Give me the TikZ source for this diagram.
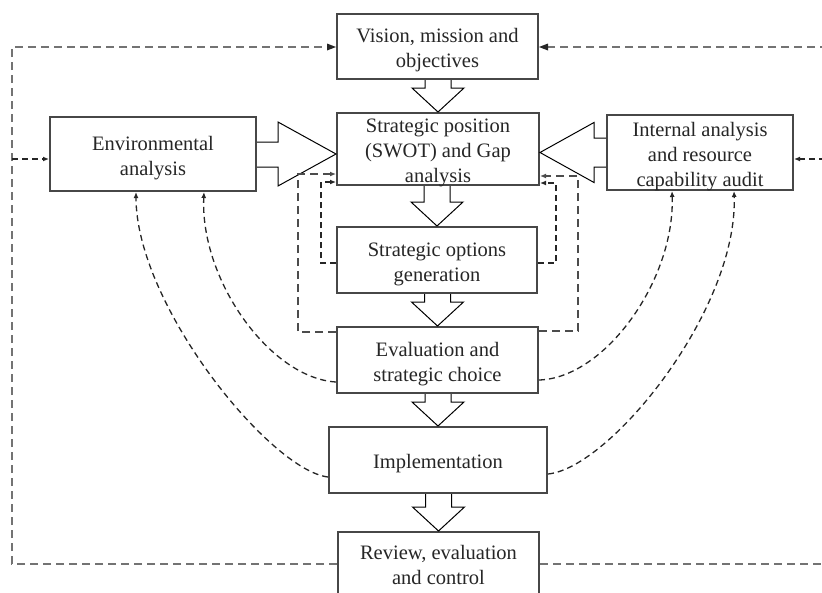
\documentclass[tikz,border=0pt]{standalone}
\usepackage{fontspec}
\setmainfont{Liberation Serif}
\usetikzlibrary{calc,arrows.meta}
\tikzset{
  box/.style={draw=black!72, line width=2pt, fill=white, rectangle, inner sep=0pt},
  txt/.style={align=center, font=\fontsize{20.5}{25}\selectfont, text=black!85, inner sep=0pt, yshift=-4pt},
  bigarrow/.style={draw=black, line width=1pt, line join=miter},
  outerloop/.style={draw=black!55, line width=2.6pt, dash pattern=on 8pt off 5pt},
  midloop/.style={draw=black!70, line width=1.6pt, dash pattern=on 8pt off 5pt, -{Latex[length=6pt,width=5pt]}},
  innerloop/.style={draw=black!85, line width=1.3pt, dash pattern=on 6pt off 4pt, -{Latex[length=6pt,width=5pt]}},
  curveloop/.style={draw=black!85, line width=1.3pt, dash pattern=on 6pt off 4pt, -{Latex[length=6pt,width=5pt]}},
}
\newcommand{\bigdown}[2]{%
  \draw[bigarrow] ($(#1.south -| #2.north)+(-13,0)$) -- ($(#2.north)+(-13,-24)$)
    -- ($(#2.north)+(-26,-24)$) -- (#2.north) -- ($(#2.north)+(26,-24)$)
    -- ($(#2.north)+(13,-24)$) -- ($(#1.south -| #2.north)+(13,0)$);}
\begin{document}
\begin{tikzpicture}[x=1pt,y=-1pt]
\path[use as bounding box] (0,0) rectangle (822,592);
\clip (0,0) rectangle (822,592);

% boxes
\node[box, minimum width=201pt, minimum height=65pt, label={[txt]center:Vision, mission and\\objectives}] (vis) at (437.5,46.5) {};
\node[box, minimum width=202pt, minimum height=72pt, label={[txt]center:Strategic position\\(SWOT) and Gap\\analysis}] (swot) at (438,149) {};
\node[box, minimum width=206pt, minimum height=74pt, label={[txt]center:Environmental\\analysis}] (env) at (153,154) {};
\node[box, minimum width=186pt, minimum height=75pt, label={[txt]center:Internal analysis\\and resource\\capability audit}] (int) at (700,152.5) {};
\node[box, minimum width=200pt, minimum height=66pt, label={[txt]center:Strategic options\\generation}] (opt) at (437,260) {};
\node[box, minimum width=201pt, minimum height=66pt, label={[txt]center:Evaluation and\\strategic choice}] (eva) at (437.5,360) {};
\node[box, minimum width=218pt, minimum height=66pt, label={[txt]center:Implementation}] (imp) at (438,460) {};
\node[box, minimum width=201pt, minimum height=64pt] (rev) at (438.5,564) {};
\node[txt, anchor=north, yshift=4pt] (revtext) at (438.5,545) {Review, evaluation\\and control};

% big block arrows
\bigdown{vis}{swot}
\bigdown{swot}{opt}
\bigdown{opt}{eva}
\bigdown{eva}{imp}
\bigdown{imp}{rev}

\draw[bigarrow] ($(env.east)+(0,-12)$) -- ($(env.east)+(21,-12)$) -- ($(env.east)+(21,-32)$)
  -- (swot.west |- env.east) -- ($(env.east)+(21,32)$) -- ($(env.east)+(21,13)$) -- ($(env.east)+(0,13)$);
\draw[bigarrow] ($(int.west)+(0,-14.5)$) -- ($(int.west)+(-12,-14.5)$) -- ($(int.west)+(-12,-30)$)
  -- (swot.east |- int.west) -- ($(int.west)+(-12,30)$) -- ($(int.west)+(-12,14.5)$) -- ($(int.west)+(0,14.5)$);

% outer feedback loop
\coordinate (TL) at (12,47);
\coordinate (BL) at (12,564);
\coordinate (TR) at (835,47);
\coordinate (BR) at (835,564);
\coordinate (LJ) at (12,159);
\coordinate (RJ) at (835,159);
\draw[outerloop] (rev.west) -- (BL) -- (TL) -- ($(TL -| vis.west)+(-8,0)$);
\draw[outerloop] (rev.east) -- (BR) -- (TR) -- ($(TR -| vis.east)+(8,0)$);
\fill[black!85] (TL -| vis.west) -- ++(-9,-3.5) -- ++(0,7) -- cycle;
\fill[black!85] (TR -| vis.east) -- ++(9,-3.5) -- ++(0,7) -- cycle;
\draw[innerloop] (LJ) -- (LJ -| env.west);
\draw[innerloop] (RJ) -- (RJ -| int.east);

% loops between options/evaluation and SWOT
\draw[innerloop] ($(opt.west)+(0,3)$) -- ++(-15,0) |- ($(swot.south west)+(0,-4)$);
\draw[midloop] ($(eva.north west)+(0,6)$) -- ++(-38,0) |- ($(swot.south west)+(0,-12)$);
\draw[innerloop] ($(opt.east)+(0,3)$) -- ++(18,0) |- ($(swot.south east)+(0,-3)$);
\draw[midloop] ($(eva.north east)+(0,5)$) -- ++(39,0) |- ($(swot.south east)+(0,-10)$);

% curved feedback
\draw[curveloop] ($(eva.west)+(0,22)$) .. controls (270,378) and (200,280) .. ($(env.south west)+(155,0)$);
\draw[curveloop] ($(imp.west)+(0,17)$) .. controls (270,470) and (136,305) .. ($(env.south west)+(87,0)$);
\draw[curveloop] ($(eva.east)+(0,20)$) .. controls (605,378) and (675,280) .. ($(int.south west)+(66,0)$);
\draw[curveloop] ($(imp.east)+(0,14)$) .. controls (610,468) and (738,310) .. ($(int.south west)+(128,0)$);
\end{tikzpicture}
\end{document}
